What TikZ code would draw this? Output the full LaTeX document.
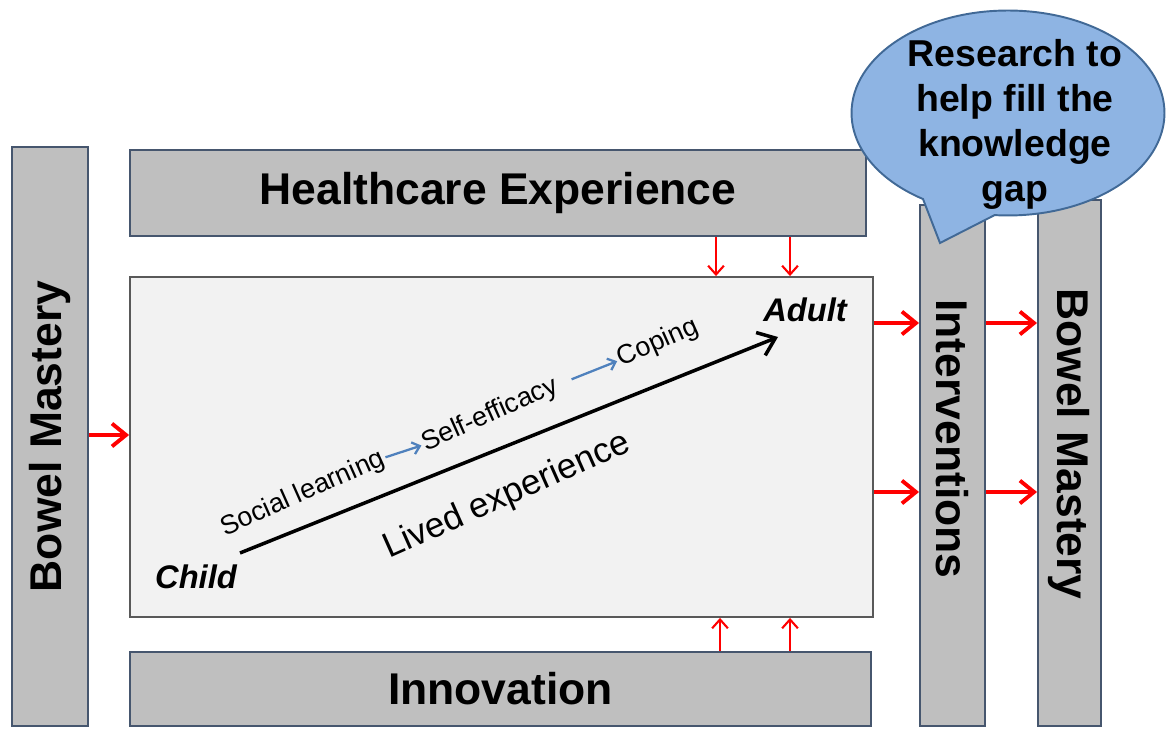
\documentclass[tikz,border=0pt]{standalone}
\usepackage{fontspec}
\setmainfont{Liberation Sans}
\usetikzlibrary{arrows.meta,positioning,calc,shapes.geometric,shapes.callouts}

\definecolor{barfill}{RGB}{191,191,191}
\definecolor{barline}{RGB}{70,86,110}
\definecolor{lifefill}{RGB}{242,242,242}
\definecolor{lifeline}{RGB}{89,89,89}
\definecolor{bubblefill}{RGB}{142,180,227}
\definecolor{bubbleline}{RGB}{65,105,150}
\definecolor{stepblue}{RGB}{79,129,189}

\begin{document}
\begin{tikzpicture}[x=0.02cm, y=-0.02cm,
    bar/.style={draw=barline, fill=barfill, line width=1.1pt, inner sep=0pt,
                font=\fontsize{25.3}{30}\selectfont\bfseries},
    flow/.style={draw=red, line width=2.2pt, -{Straight Barb[length=8pt,width=13pt]}},
    thinflow/.style={draw=red, line width=1.2pt, -{Straight Barb[length=5pt,width=9pt]}},
    stage/.style={font=\fontsize{15.3}{18}\selectfont, inner sep=1pt, rotate=24},
    stagearrow/.style={draw=stepblue, line width=1.3pt, -{Straight Barb[length=4pt,width=7pt]}},
    endpoint/.style={font=\fontsize{18.6}{22}\selectfont\bfseries\itshape, inner sep=1pt}]

    % page size
    \useasboundingbox (0,0) rectangle (1166,729);

    % the bars round the picture
    \node[bar, rotate=90, minimum width=11.58cm, minimum height=1.52cm] (leftbar) at (50,436.5) {Bowel Mastery};
    \node[bar, minimum width=14.72cm, minimum height=1.72cm] (he) at (498,193) {Healthcare Experience};
    \node[bar, minimum width=14.82cm, minimum height=1.48cm] (inno) at (500.5,689) {Innovation};
    \node[bar, minimum width=1.3cm, minimum height=10.42cm] (interv) at (952.5,465.5) {};
    \node[bar, minimum width=1.26cm, minimum height=10.52cm] (rightbar) at (1069.5,463) {};
    \node[bar, draw=none, fill=none, rotate=-90] (intervlabel) at (952,439) {Interventions};
    \node[bar, draw=none, fill=none, rotate=-90] (rightlabel) at (1069,444) {Bowel Mastery};

    % the lived experience box
    \node[draw=lifeline, fill=lifefill, line width=1.1pt, minimum width=14.86cm,
          minimum height=6.8cm] (life) at (501.5,447) {};

    \node[endpoint] (child) at (196,577) {Child};
    \node[endpoint] (adult) at (805,310) {Adult};
    \coordinate (lifestart) at (240,553);
    \coordinate (lifeend) at (778,337);
    \draw[line width=2pt, -{Straight Barb[length=9pt,width=14pt]}] (lifestart) -- (lifeend);

    \node[font=\fontsize{20}{24}\selectfont, rotate=24] (lived) at (507,496) {Lived experience};

    % stages along the way
    \node[stage] (social) at (303,494) {Social learning};
    \node[stage] (selfeff) at (490,415) {Self-efficacy};
    \node[stage] (coping) at (658,343) {Coping};
    \draw[stagearrow] (social.east) -- (selfeff.west);
    \draw[stagearrow, shorten <=0.28cm] (selfeff.east) -- (coping.west);

    % red arrows
    \draw[flow] (leftbar.south |- 0,435) -- (life.west |- 0,435);
    \draw[thinflow] (716,0 |- he.south) -- (716,0 |- life.north);
    \draw[thinflow] (790,0 |- he.south) -- (790,0 |- life.north);
    \draw[thinflow] (720,0 |- inno.north) -- (720,0 |- life.south);
    \draw[thinflow] (790,0 |- inno.north) -- (790,0 |- life.south);
    \draw[flow] (life.east |- 0,323) -- (interv.west |- 0,323);
    \draw[flow] (life.east |- 0,492) -- (interv.west |- 0,492);
    \draw[flow] (interv.east |- 0,323) -- (rightbar.west |- 0,323);
    \draw[flow] (interv.east |- 0,492) -- (rightbar.west |- 0,492);

    % the speech bubble
    \node[ellipse callout, draw=bubbleline, fill=bubblefill, line width=1.1pt,
          minimum width=6.26cm, minimum height=4.1cm, inner sep=0pt,
          callout absolute pointer={(940,243)}, callout pointer arc=28] (bubble) at (1008,113) {};
    \node[font=\fontsize{21.3}{25.6}\selectfont\bfseries, align=center] (bubbletext) at (1015,124)
          {Research to\\help fill the\\knowledge\\gap};
\end{tikzpicture}
\end{document}
